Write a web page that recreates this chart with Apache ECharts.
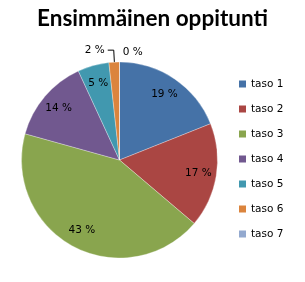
<!DOCTYPE html>
<html><head><meta charset="utf-8">
<script src="https://cdn.jsdelivr.net/npm/echarts@6/dist/echarts.min.js"></script>
<style>html,body{margin:0;padding:0;background:#fff}#c{width:305px;height:282px}</style>
</head><body><div id="c"></div>
<script>
const titleText = 'Ensimmäinen oppitunti';
const categories = ['taso 1','taso 2','taso 3','taso 4','taso 5','taso 6','taso 7'];
const counts = [11, 10, 25, 8, 3, 1, 0];
const colors = ['#4572A7','#AA4643','#89A54E','#71588F','#4198AF','#DB843D','#93A9CF'];

const chart = echarts.init(document.getElementById('c'), null, {renderer:'canvas'});
const fmt = p => Math.round(p.percent) + ' %';
const labelData = categories.map((n,i) => {
  const d = {name: n, value: counts[i]};
  if (i === 5) {
    d.label = {show:true, position:'outside', distanceToLabelLine: 3};
    d.labelLine = {show:true, length: 12, length2: 6, lineStyle:{color:'#000', width:1}};
  } else if (i === 6) {
    d.label = {show:true, position:'outside', distanceToLabelLine: 3};
    d.labelLine = {show:false, length: 10, length2: 0};
  }
  return d;
});
chart.setOption({
  animation:false,
  color: colors,
  title:{text:titleText, left:'center', top:2, textStyle:{fontFamily:'Lato', fontWeight:'bold', fontSize:22.5, color:'#000'}},
  legend:{orient:'vertical', left:234, top:73, itemWidth:7, itemHeight:7, itemGap:13, icon:'rect',
    itemStyle:{borderWidth:0},
    data: categories.map((n,i)=>({name:n, itemStyle:{color:colors[i], borderWidth:0}})),
    textStyle:{fontFamily:'DejaVu Sans', fontSize:10.5, lineHeight:12, color:'#000'}},
  series:[
    {type:'pie', radius:98, center:[119.5,160], startAngle:90, clockwise:true,
     label:{show:false}, labelLine:{show:false}, silent:true,
     itemStyle:{borderColor:'#fff', borderWidth:0.3},
     data: categories.map((n,i)=>({name:n, value:counts[i]}))},
    {type:'pie', radius:[56,98], center:[119.5,160], startAngle:89.9, clockwise:true, silent:true,
     avoidLabelOverlap:false, legendHoverLink:false,
     itemStyle:{color:'rgba(0,0,0,0)'},
     label:{show:true, position:'inside', formatter: fmt, fontFamily:'DejaVu Sans', fontSize:10.5, color:'#000'},
     labelLine:{show:false},
     data: labelData}
  ]
});
</script></body></html>
